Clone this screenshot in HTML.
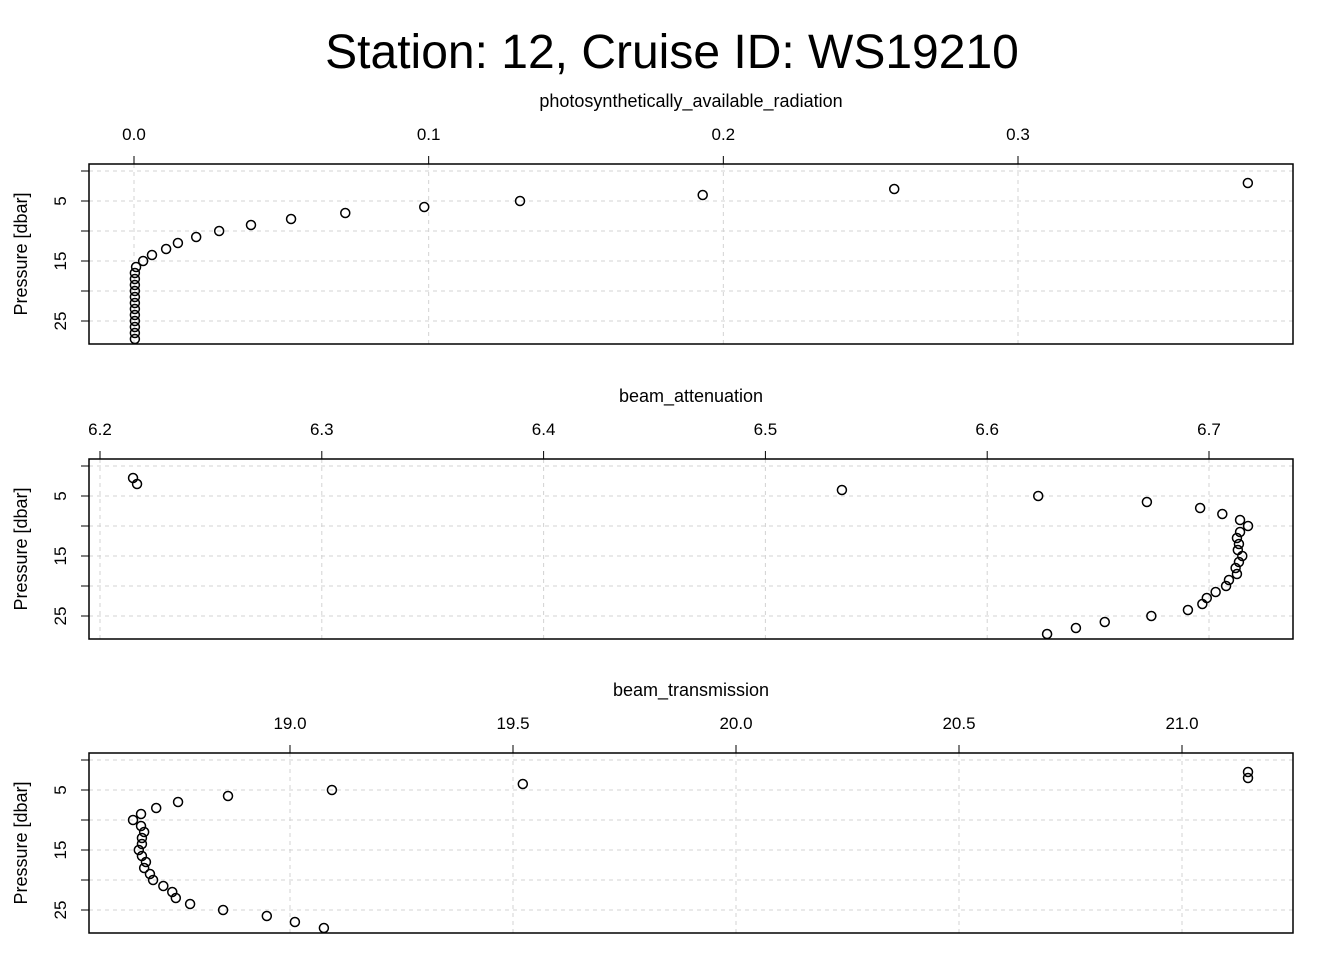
<!DOCTYPE html>
<html><head><meta charset="utf-8"><style>
body{margin:0;background:#fff}
svg text{font-family:"Liberation Sans",sans-serif;fill:#000}
</style></head><body>
<svg id="chart" width="1344" height="960" viewBox="0 0 1344 960" xmlns="http://www.w3.org/2000/svg">
<text x="672" y="68" font-size="48" text-anchor="middle">Station: 12, Cruise ID: WS19210</text>
</svg>
<script>
const pressures = [2,3,4,5,6,7,8,9,10,11,12,13,14,15,16,17,18,19,20,21,22,23,24,25,26,27,28];
const parValues = [0.378,0.258,0.193,0.131,0.0985,0.0717,0.0533,0.0397,0.0289,0.0211,0.0149,0.0109,0.0061,0.0031,0.0007,0.0003,0.0003,0.0003,0.0003,0.0003,0.0003,0.0003,0.0003,0.0003,0.0003,0.0003,0.0003];
const attenuationValues = [6.2149,6.2167,6.5345,6.623,6.672,6.696,6.706,6.714,6.7176,6.714,6.7126,6.7135,6.713,6.715,6.7135,6.712,6.7126,6.709,6.7077,6.703,6.699,6.697,6.6905,6.674,6.653,6.640,6.627];
const transmissionValues = [21.148,21.148,19.522,19.094,18.861,18.749,18.700,18.666,18.648,18.666,18.673,18.668,18.668,18.661,18.668,18.677,18.673,18.686,18.693,18.716,18.736,18.744,18.776,18.850,18.948,19.011,19.076];
const parTicks = [0.0,0.1,0.2,0.3];
const attTicks = [6.2,6.3,6.4,6.5,6.6,6.7];
const transTicks = [19.0,19.5,20.0,20.5,21.0];
const pressureTicks = [0,5,10,15,20,25];
const pressureLabels = ["","5","","15","","25"];

const NS="http://www.w3.org/2000/svg";
const svg=document.getElementById('chart');
function mk(tag,attrs,parent){const e=document.createElementNS(NS,tag);for(const k in attrs)e.setAttribute(k,attrs[k]);(parent||svg).appendChild(e);return e;}

function panel(name,title,top,values,ticks,x0v,x0p,x1v,x1p,dec){
  const L=89,R=1293,T=top,B=top+180;
  const g=mk('g',{});
  
  
  const xs=v=>x0p+(v-x0v)*(x1p-x0p)/(x1v-x0v);
  const ys=p=>T+7+p*6;
  ticks.forEach(t=>{mk('line',{x1:xs(t),x2:xs(t),y1:T,y2:B,stroke:'#d3d3d3','stroke-dasharray':'4,4'},g);});
  pressureTicks.forEach(p=>{mk('line',{x1:L,x2:R,y1:ys(p),y2:ys(p),stroke:'#d3d3d3','stroke-dasharray':'4,4'},g);});
  const box=mk('rect',{x:L,y:T,width:R-L,height:B-T,fill:'none',stroke:'#000','stroke-width':1.5},g);
  
  
  ticks.forEach(t=>{
    mk('line',{x1:xs(t),x2:xs(t),y1:T,y2:T-8,stroke:'#000'},g);
    const tx=mk('text',{x:xs(t),y:T-24,'font-size':17,'text-anchor':'middle'},g);
    tx.textContent=t.toFixed(dec);
    
    
  });
  const at=mk('text',{x:691,y:T-57,'font-size':18,'text-anchor':'middle'},g);
  at.textContent=title;
  
  
  pressureTicks.forEach((p,i)=>{
    mk('line',{x1:L,x2:L-8,y1:ys(p),y2:ys(p),stroke:'#000'},g);
    if(pressureLabels[i]){
      const tx=mk('text',{x:0,y:0,'font-size':17,'text-anchor':'middle',transform:`translate(66,${ys(p)}) rotate(-90)`},g);
      tx.textContent=pressureLabels[i];
      
      
    }
  });
  const yt=mk('text',{x:0,y:0,'font-size':18,'text-anchor':'middle',transform:`translate(27,${T+90}) rotate(-90)`},g);
  yt.textContent='Pressure [dbar]';
  
  
  values.forEach((v,i)=>{
    const c=mk('circle',{cx:xs(v),cy:ys(pressures[i]),r:4.5,fill:'none',stroke:'#000','stroke-width':1.5},g);
    
    
  });
}
panel('par','photosynthetically_available_radiation',164,parValues,parTicks,0,134,0.3,1018,1);
panel('attenuation','beam_attenuation',459,attenuationValues,attTicks,6.2,100,6.7,1209,1);
panel('transmission','beam_transmission',753,transmissionValues,transTicks,19.0,290,21.0,1182,1);
</script>
</body></html>
